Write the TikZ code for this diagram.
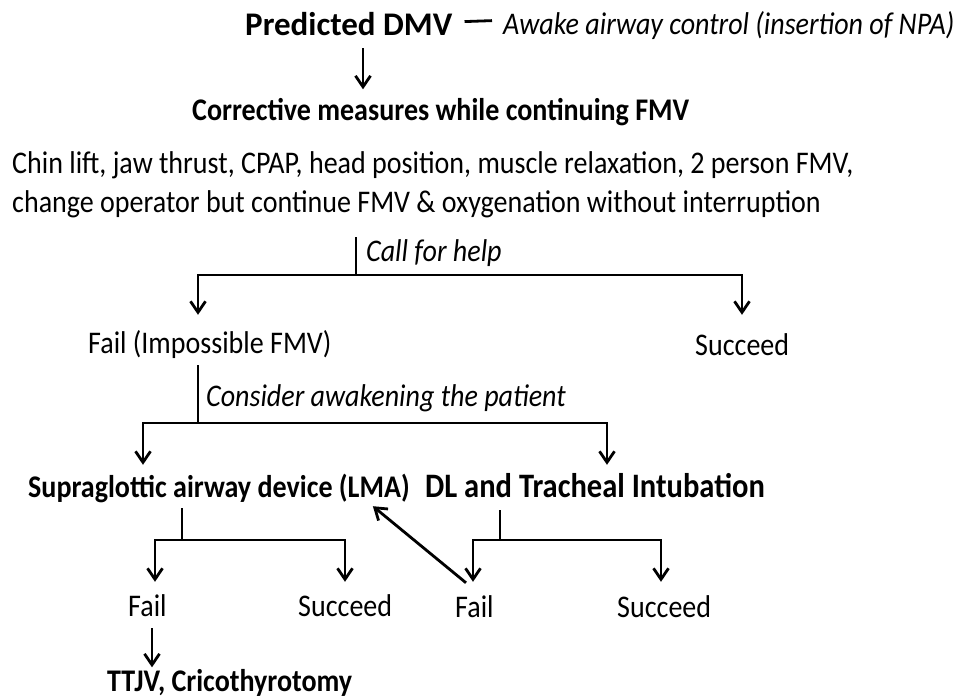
\documentclass[tikz,border=0pt]{standalone}
\usepackage{fontspec}
\setmainfont{Carlito}
\newfontfamily\tallfont{Carlito}[FakeStretch=0.89]
\usetikzlibrary{arrows.meta,calc,positioning}
\tikzset{
    txt/.style={inner sep=0pt, anchor=base west, font=\tallfont\fontsize{31.5}{38}\selectfont, text height=22.5pt, text depth=7pt},
    itxt/.style={txt, font=\tallfont\fontsize{31.5}{38}\selectfont\itshape},
    btxt/.style={txt, font=\tallfont\fontsize{31.5}{38}\selectfont\bfseries},
    head/.style={txt, font=\fontsize{33}{40}\selectfont\bfseries, text height=24pt, text depth=7pt},
    bar/.style={line width=2.8pt},
    flow/.style={bar, ->},
}

\begin{document}
\begin{tikzpicture}[x=1pt, y=-1pt, >={Straight Barb[length=11pt,width=15pt]}]

    \useasboundingbox (0,0) rectangle (956,698);

    % Draw the texts.
    \node[head] (pred) at (245,36) {Predicted DMV};
    \node[itxt] (awake) at (503,35) {Awake airway control (insertion of NPA)};
    \node[btxt] (corr) at (192,121) {Corrective measures while continuing FMV};
    \node[txt] (meas1) at (12,174) {Chin lift, jaw thrust, CPAP, head position, muscle relaxation, 2 person FMV,};
    \node[txt] (meas2) at (12,212) {change operator but continue FMV \& oxygenation without interruption};
    \node[itxt] (help) at (366,261) {Call for help};
    \node[txt] (fail1) at (88,353) {Fail (Impossible FMV)};
    \node[txt] (succ1) at (695,355) {Succeed};
    \node[itxt] (wake) at (206,406) {Consider awakening the patient};
    \node[btxt] (sga) at (28,497) {Supraglottic airway device (LMA)};
    \node[btxt, font=\tallfont\fontsize{34.3}{40}\selectfont\bfseries] (dl) at (425,497) {DL and Tracheal Intubation};
    \node[txt] (fail2) at (128,616) {Fail};
    \node[txt] (succ2) at (298,616) {Succeed};
    \node[txt] (fail3) at (455,617) {Fail};
    \node[txt] (succ3) at (617,617) {Succeed};
    \node[btxt] (ttjv) at (107,691) {TTJV, Cricothyrotomy};

    % Junction points of the branches.
    \coordinate (dmvx) at (363,0);
    \coordinate (helpj) at (356,275);
    \coordinate (helpl) at (198,275);
    \coordinate (helpr) at (742,275);
    \coordinate (wakej) at (198,423);
    \coordinate (wakel) at (143,423);
    \coordinate (waker) at (607,423);
    \coordinate (sgaj) at (182,540);
    \coordinate (sgal) at (155,540);
    \coordinate (sgar) at (345,540);
    \coordinate (dlj) at (500,540);
    \coordinate (dll) at (473,540);
    \coordinate (dlr) at (661,540);
    \coordinate (ttjvx) at (152,0);

    % Draw the dash and the first arrow.
    \draw[bar, shorten <=12pt, shorten >=11pt] ([yshift=5.5pt]pred.east) -- ([yshift=7pt]awake.west);
    \draw[flow, shorten <=5pt, shorten >=9pt] (pred.south -| dmvx) -- (corr.north -| dmvx);

    % Call for help branch.
    \draw[bar, shorten <=18pt] (meas2.south -| helpj) -- (helpj);
    \draw[bar, <->, shorten <=15.5pt, shorten >=17.5pt] (helpl |- fail1.north) -- (helpl) -- (helpr) -- (helpr |- succ1.north);

    % Awakening branch.
    \draw[bar, shorten <=5pt] (fail1.south -| wakej) -- (wakej);
    \draw[bar, <->, shorten <=9.5pt, shorten >=9.5pt] (wakel |- sga.north) -- (wakel) -- (waker) -- (waker |- dl.north);

    % LMA branch.
    \draw[bar, shorten <=4pt] (sga.south -| sgaj) -- (sgaj);
    \draw[bar, <->, shorten <=11.5pt, shorten >=11.5pt] (sgal |- fail2.north) -- (sgal) -- (sgar) -- (sgar |- succ2.north);
    \draw[flow, shorten <=5pt, shorten >=1pt] (fail2.south -| ttjvx) -- (ttjv.north -| ttjvx);

    % Intubation branch.
    \draw[bar, shorten <=6pt] (dl.south -| dlj) -- (dlj);
    \draw[bar, <->, shorten <=12.5pt, shorten >=12.5pt] (dll |- fail3.north) -- (dll) -- (dlr) -- (dlr |- succ3.north);
    \draw[flow] ([xshift=11pt,yshift=11.5pt]fail3.north west) -- ([xshift=-37pt,yshift=-2pt]sga.south east);

\end{tikzpicture}
\end{document}
